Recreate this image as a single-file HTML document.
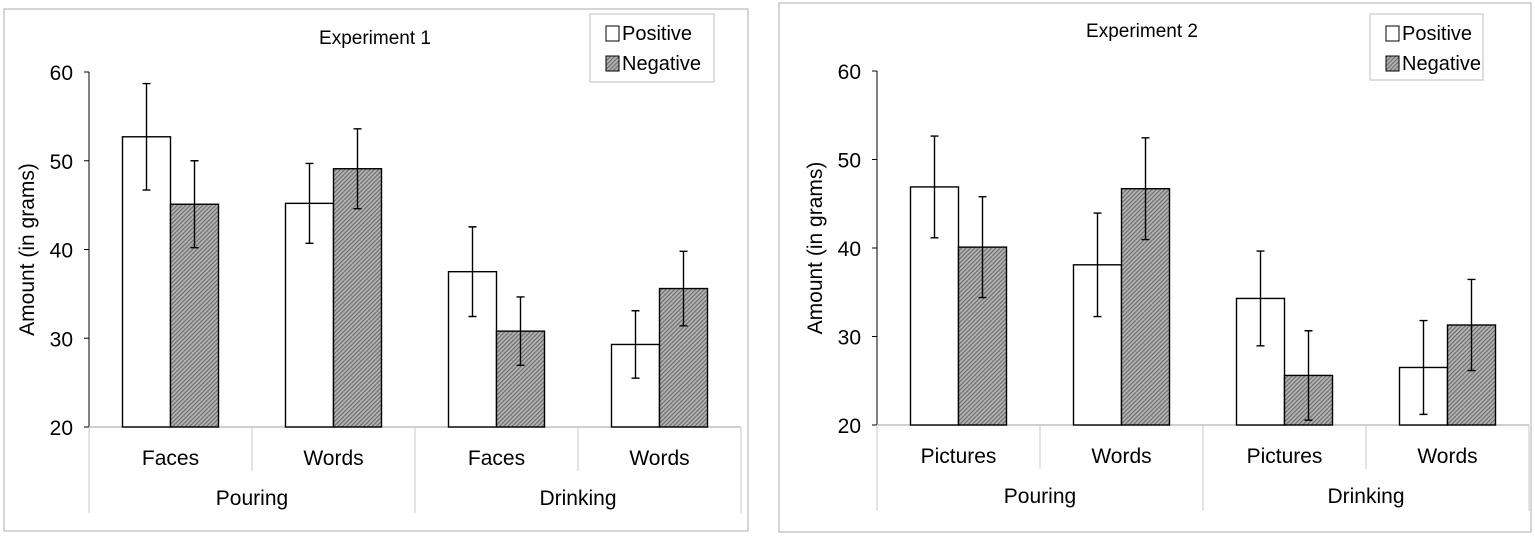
<!DOCTYPE html>
<html><head><meta charset="utf-8"><style>
body{margin:0;background:#fff;}
svg{display:block;font-family:"Liberation Sans",Arial,sans-serif;}
</style></head><body>
<svg id="s" width="1535" height="536">
<defs>
<pattern id="hatch" width="3" height="3" patternUnits="userSpaceOnUse" patternTransform="rotate(45)">
<rect width="3" height="3" fill="#b4b4b4"/>
<rect width="1.2" height="3" fill="#6e6e6e"/>
</pattern>
</defs>
</svg>
<script>
const yTicks = [20, 30, 40, 50, 60];
const cats1 = ["Faces", "Words", "Faces", "Words"];
const cats2 = ["Pictures", "Words", "Pictures", "Words"];
const groups = ["Pouring", "Drinking"];
const pos1 = [52.7, 45.2, 37.5, 29.3];
const posErr1 = [6.0, 4.5, 5.05, 3.8];
const neg1 = [45.1, 49.1, 30.8, 35.6];
const negErr1 = [4.9, 4.5, 3.85, 4.2];
const pos2 = [46.9, 38.1, 34.3, 26.5];
const posErr2 = [5.75, 5.85, 5.35, 5.3];
const neg2 = [40.1, 46.7, 25.6, 31.3];
const negErr2 = [5.7, 5.75, 5.05, 5.15];

const svg = document.getElementById('s');
const NS = 'http://www.w3.org/2000/svg';
function mk(tag, attrs, parent, text){
  const e = document.createElementNS(NS, tag);
  for (const k in attrs) e.setAttribute(k, attrs[k]);
  if (text !== undefined) e.textContent = text;
  (parent || svg).appendChild(e);
  return e;
}

function chart(cfg){
  const g = mk('g', {});
  
  
  const frame = mk('rect', {x:cfg.box[0], y:cfg.box[1], width:cfg.box[2], height:cfg.box[3], fill:'#fff', stroke:'#c8c8c8', 'stroke-width':1.5}, g);
  
  
  const x0 = cfg.x0, catW = cfg.catW, yTop = cfg.yTop, yBot = cfg.yBot;
  const ymin = yTicks[0], ymax = yTicks[yTicks.length-1];
  const y = v => yBot - (v - ymin) / (ymax - ymin) * (yBot - yTop);
  const xEnd = x0 + catW * cfg.cats.length;
  const t = mk('text', {x:cfg.titleX, y:cfg.titleY, 'font-size':19, 'text-anchor':'middle', fill:'#000'}, g, cfg.title);
  
  
  const ya = mk('line', {x1:x0, y1:yTop, x2:x0, y2:yBot, stroke:'#000', 'stroke-width':1}, g);
  
  
  yTicks.forEach(v => {
    mk('line', {x1:x0-5, y1:y(v), x2:x0, y2:y(v), stroke:'#000'}, g);
    const tl = mk('text', {x:x0-16, y:y(v)+8, 'font-size':21, 'text-anchor':'end'}, g, v);
    
    
  });
  const yl = mk('text', {x:0, y:0, 'font-size':21, 'text-anchor':'middle', transform:`translate(${cfg.yLabelX},${(yTop+yBot)/2}) rotate(-90)`}, g, 'Amount (in grams)');
  
  
  const xa = mk('line', {x1:x0, y1:yBot, x2:xEnd, y2:yBot, stroke:'#c0c0c0', 'stroke-width':1.5}, g);
  
  
  for (let i = 0; i <= cfg.cats.length; i++){
    const major = i % 2 === 0;
    mk('line', {x1:x0+i*catW, y1:yBot, x2:x0+i*catW, y2: major ? yBot+86 : yBot+44, stroke:'#c8c8c8', 'stroke-width':1}, g);
  }
  cfg.cats.forEach((c, i) => {
    const cl = mk('text', {x:x0+(i+0.5)*catW, y:yBot+38, 'font-size':21, 'text-anchor':'middle'}, g, c);
    
    
  });
  groups.forEach((gr, i) => {
    const gl = mk('text', {x:x0+(i+0.5)*2*catW, y:yBot+78, 'font-size':21, 'text-anchor':'middle'}, g, gr);
    
    
  });
  const bw = 48;
  cfg.cats.forEach((c, i) => {
    const cx = x0 + (i+0.5)*catW;
    [[cfg.pos, cfg.posErr, '#fff', cx-bw, 'bar-positive'], [cfg.neg, cfg.negErr, 'url(#hatch)', cx, 'bar-negative']].forEach(s => {
      const v = s[0][i], e = s[1][i];
      const b = mk('rect', {x:s[3], y:y(v), width:bw, height:yBot-y(v), fill:s[2], stroke:'#000', 'stroke-width':1.4}, g);
      
      
      const mx = s[3] + bw/2;
      const eb = mk('path', {d:`M${mx},${y(v+e)}V${y(v-e)}M${mx-4},${y(v+e)}H${mx+4}M${mx-4},${y(v-e)}H${mx+4}`, stroke:'#000', 'stroke-width':1.4, fill:'none'}, g);
      
      
    });
  });
  const L = cfg.legend;
  const lg = mk('g', {}, g);
  
  
  mk('rect', {x:L[0], y:L[1], width:L[2], height:L[3], fill:'#fff', stroke:'#c8c8c8', 'stroke-width':1.2}, lg);
  [['Positive', '#fff'], ['Negative', 'url(#hatch)']].forEach((it, k) => {
    const yy = L[1] + 19 + k*30;
    mk('rect', {x:L[0]+16, y:yy-7, width:13, height:15, fill:it[1], stroke:'#000', 'stroke-width':1}, lg);
    const le = mk('text', {x:L[0]+32, y:yy+7, 'font-size':20}, lg, it[0]);
    
    
  });
}

chart({name:'experiment-1-chart', box:[4,9,744,522], x0:89, catW:163, yTop:72, yBot:427, yLabelX:34,
  title:'Experiment 1', titleX:375, titleY:44, legend:[590,14,124,68], cats:cats1,
  pos:pos1, posErr:posErr1, neg:neg1, negErr:negErr1});
chart({name:'experiment-2-chart', box:[779,3,752,529], x0:877, catW:163, yTop:71, yBot:425, yLabelX:822,
  title:'Experiment 2', titleX:1142, titleY:37, legend:[1370,14,113,66], cats:cats2,
  pos:pos2, posErr:posErr2, neg:neg2, negErr:negErr2});
</script>
</body></html>
